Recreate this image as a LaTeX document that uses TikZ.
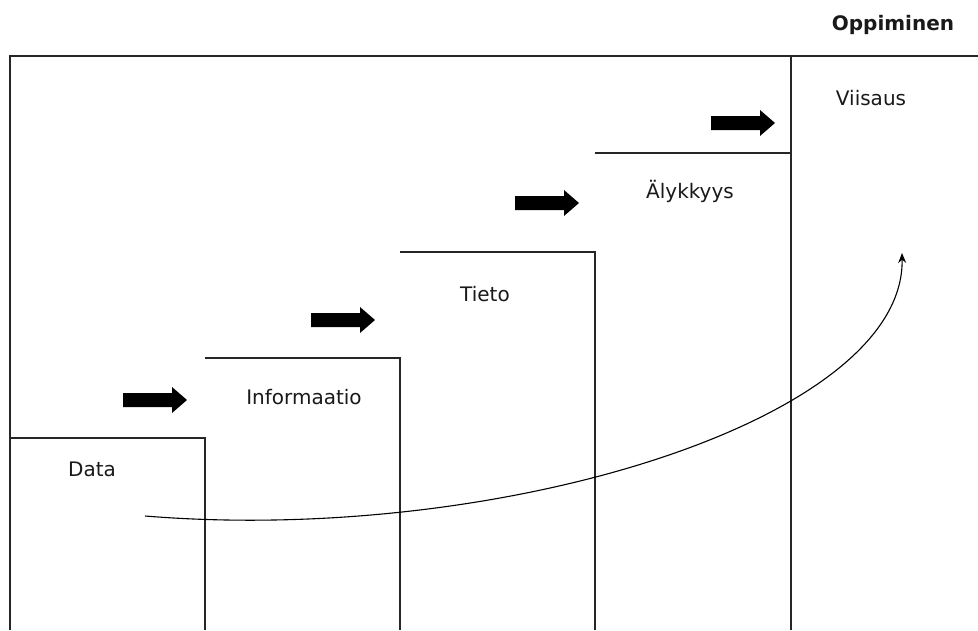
\documentclass[tikz,border=0pt]{standalone}
\usepackage{fontspec}
\setmainfont{DejaVu Sans}
\usetikzlibrary{arrows.meta}
\begin{document}
\begin{tikzpicture}[x=1pt,y=-1pt,
  frame/.style={draw=black!85,line width=1.8pt},
  lbl/.style={font=\fontsize{20}{24}\selectfont,text=black!90,inner sep=0pt},
  blockarrow/.style={fill=black},
  flow/.style={draw=black,line width=1.1pt,-{Stealth[length=10pt,width=8pt]}}]
\useasboundingbox (0,0) rectangle (978,630);
% frame
\draw[frame] (10,630) -- (10,56) -- (978,56);
\draw[frame] (10,438) -- (205,438) -- (205,630);
\draw[frame] (205,358) -- (400,358) -- (400,630);
\draw[frame] (400,252) -- (595,252) -- (595,630);
\draw[frame] (595,153) -- (791,153) -- (791,630);
\draw[frame] (791,56) -- (791,153);
% labels
\node[lbl] (data) at (92,469) {Data};
\node[lbl] (info) at (304,397) {Informaatio};
\node[lbl] (tieto) at (485,294) {Tieto};
\node[lbl] (aly) at (690,191) {Älykkyys};
\node[lbl] (viis) at (871,98) {Viisaus};
\node[lbl,font=\fontsize{20}{24}\selectfont\bfseries] (opp) at (893,25) {Oppiminen};
% block arrows
\foreach \x/\y in {123/400, 311/320, 515/203, 711/123}{
  \fill[blockarrow] (\x,\y) ++(0,-7) -- ++(49,0) -- ++(0,-6) -- ++(15,13) -- ++(-15,13) -- ++(0,-6) -- ++(-49,0) -- cycle;
}
% learning curve
\coordinate (cs) at (145,516);
\coordinate (ce) at (902,253);
\draw[flow] (cs) .. controls (500,545) and (905,420) .. (ce);
\end{tikzpicture}
\end{document}
